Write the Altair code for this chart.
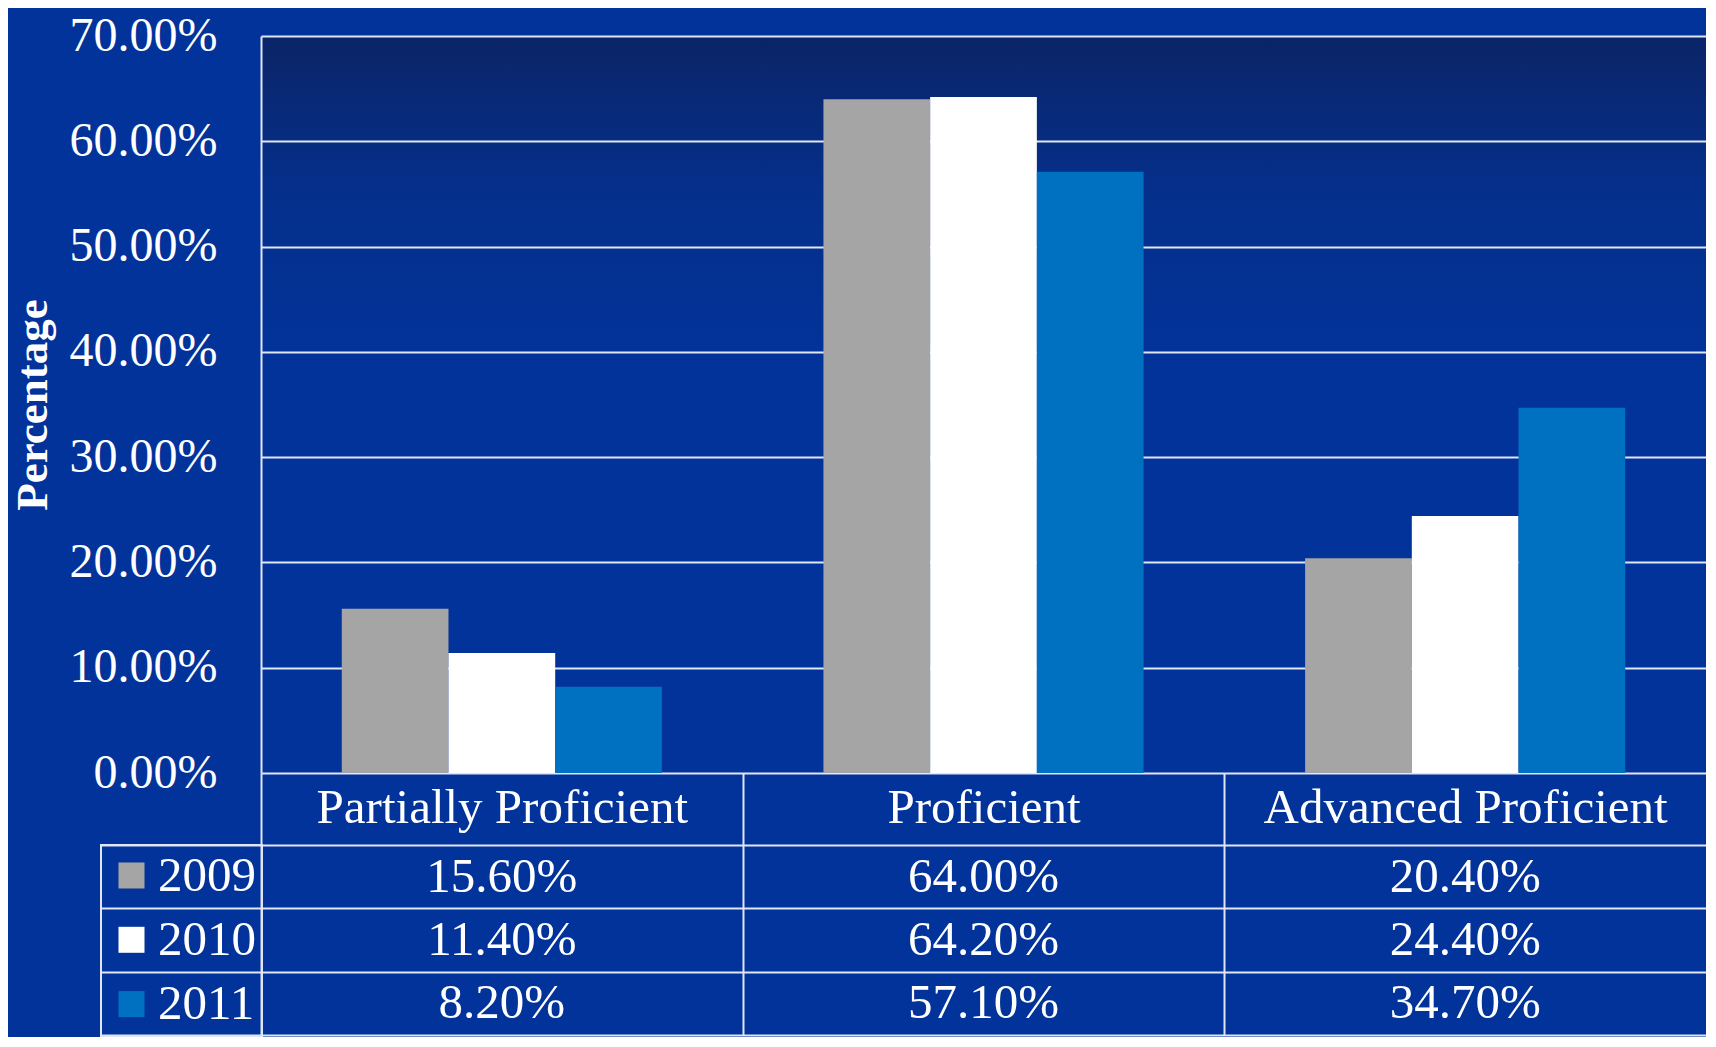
import altair as alt
import pandas as pd

# ---- data ----
categories = ["Partially Proficient", "Proficient", "Advanced Proficient"]
years = ["2009", "2010", "2011"]
values_2009 = [15.6, 64.0, 20.4]
values_2010 = [11.4, 64.2, 24.4]
values_2011 = [8.2, 57.1, 34.7]
bar_colors = ["#a5a5a5", "#ffffff", "#0070c0"]
y_ticks = [0, 10, 20, 30, 40, 50, 60, 70]

series = dict(zip(years, [values_2009, values_2010, values_2011]))

bar_rows = []
for yr in years:
    for c, v in zip(categories, series[yr]):
        bar_rows.append({"category": c, "year": yr, "value": v / 100})
bars_df = pd.DataFrame(bar_rows)

table_rows = []
for yr in years:
    for c, v in zip(categories, series[yr]):
        table_rows.append({"category": c, "row": yr, "text": f"{v:.2f}%"})
table_df = pd.DataFrame(table_rows)

# ---- style ----
FONT = "Liberation Serif"
LINE = "#dfe6f6"
BG = "#02339a"
W = 1445
H1 = 737
HEADER_H = 72
H2 = 190
FS = 49

gradient_expr = (
    "{gradient: 'linear', x1: 0, y1: 0, x2: 0, y2: 1, stops: ["
    "{offset: 0, color: '#0b2467'}, {offset: 0.2, color: '#052f8a'}, "
    "{offset: 0.45, color: '#02339a'}, {offset: 1, color: '#02339a'}]}"
)

last_cat = categories[-1]
hide_last = {"condition": {"test": f"datum.value === '{last_cat}'", "value": 0}, "value": 1}

x_scale = alt.Scale(domain=categories, paddingInner=0, paddingOuter=0)

bars = alt.Chart(bars_df).mark_bar().encode(
    x=alt.X(
        "category:N", sort=categories, scale=x_scale, title=None,
        axis=alt.Axis(
            orient="bottom", tickBand="extent", grid=False, domain=False,
            ticks=True, tickSize=HEADER_H, tickColor=LINE, tickWidth=2,
            tickOpacity=hide_last,
            labelFont=FONT, labelFontSize=FS, labelColor="white", labelLimit=0,
            labelBaseline="middle", labelPadding=-38, labelAngle=0,
        ),
    ),
    xOffset=alt.XOffset("year:N", sort=years,
                        scale=alt.Scale(domain=years, paddingInner=0, paddingOuter=0.757)),
    y=alt.Y(
        "value:Q",
        scale=alt.Scale(domain=[0, 0.7], nice=False),
        axis=alt.Axis(
            values=[t / 100 for t in y_ticks],
            format=".2%",
            labelFont=FONT, labelFontSize=48, labelColor="white", labelPadding=44,
            ticks=False,
            domain=True, domainColor=LINE, domainWidth=2,
            grid=True, gridColor=LINE, gridWidth=2, gridOpacity=1,
            title="Percentage", titleFont=FONT, titleFontSize=45,
            titleFontWeight="bold", titleColor="white", titlePadding=14,
        ),
    ),
    color=alt.Color(
        "year:N",
        scale=alt.Scale(domain=years, range=bar_colors),
        legend=alt.Legend(
            title=None, orient="none", legendX=-160, legendY=H1 + HEADER_H,
            direction="vertical", symbolType="square", symbolSize=676,
            symbolStrokeWidth=0, symbolOpacity=1,
            labelFont=FONT, labelFontSize=FS, labelColor="white",
            labelOffset=2, rowPadding=14.3, padding=6,
            strokeColor=LINE,
        ),
    ),
).properties(width=W, height=H1,
             view=alt.ViewBackground(fill=alt.ExprRef(gradient_expr), strokeWidth=0))

table = alt.Chart(table_df).mark_text(
    font=FONT, fontSize=FS, color="white", baseline="middle"
).encode(
    x=alt.X(
        "category:N", sort=categories, scale=x_scale,
        axis=alt.Axis(tickBand="extent", grid=True, gridColor=LINE, gridWidth=2,
                      gridOpacity=hide_last,
                      labels=False, ticks=False, domain=False, title=None),
    ),
    y=alt.Y(
        "row:N", sort=years,
        scale=alt.Scale(domain=years, paddingInner=0, paddingOuter=0),
        axis=alt.Axis(
            tickBand="extent", grid=True, gridColor=LINE, gridWidth=2,
            labels=False, domain=False, title=None,
            ticks=True, tickSize=160, tickColor=LINE, tickWidth=2,
        ),
    ),
    text="text:N",
).properties(width=W, height=H2)

chart = alt.vconcat(bars, table, spacing=HEADER_H, bounds="flush").configure(
    background=BG,
    padding={"left": 2, "top": 4, "right": 0, "bottom": 0},
).configure_view(strokeWidth=0).configure_legend(strokeWidth=2)

chart.save("out.html", embed_options={"renderer": "svg", "actions": False})
